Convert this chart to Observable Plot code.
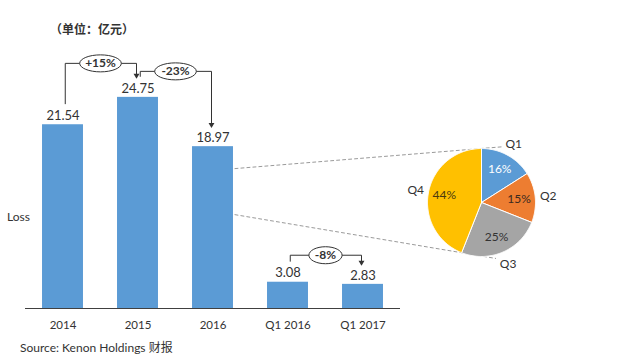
<!DOCTYPE html>
<html><head><meta charset="utf-8">
<script src="https://cdn.jsdelivr.net/npm/d3@7"></script>
<script src="https://cdn.jsdelivr.net/npm/@observablehq/plot@0.6"></script>
<style>
body{margin:0;background:#fff}
#wrap{position:relative;width:640px;height:360px;overflow:hidden;font-family:Lato,"Noto Sans CJK SC",sans-serif;color:#333}
#wrap svg{position:absolute;left:0;top:0}
.lbl{position:absolute;white-space:nowrap}
#title{left:50px;top:21px;font-size:12px;line-height:18px;font-weight:bold;font-family:Lato,"Noto Sans CJK SC",sans-serif}
#loss{left:7px;top:208px;font-size:12px;line-height:18px}
#source{left:20px;top:339px;font-size:12px;line-height:18px;font-family:Lato,"Noto Sans CJK SC",sans-serif}
</style></head>
<body><div id="wrap">
<div class="lbl" id="title">（单位：亿元）</div>
<div class="lbl" id="loss">Loss</div>
<div class="lbl" id="source">Source: Kenon Holdings 财报</div>
</div>
<script>
// ---- data ----
const categories = ["2014", "2015", "2016", "Q1 2016", "Q1 2017"];
const losses = [21.54, 24.75, 18.97, 3.08, 2.83];
const changeFrom = [0, 1, 3];
const changeTo = [1, 2, 4];
const changeLabels = ["+15%", "-23%", "-8%"];
const quarters = ["Q1", "Q2", "Q3", "Q4"];
const shares = [16, 15, 25, 44];

// ---- styles / layout ----
const barColor = "#5B9BD5";
const pieColors = ["#5B9BD5", "#ED7D31", "#A5A5A5", "#FFC000"];
const pctColors = ["#ffffff", "#3a2a20", "#333333", "#4a3a10"];
const ink = "#333";
const W = 640, H = 360, mTop = 20, mBottom = 52;
const yMax = 33.76;
const u = px => px * yMax / (H - mTop - mBottom); // px -> data units
const hw = 0.273; // half bar width (index units)
const lift = [34, 26, 27]; // bracket heights above the taller bar (px)

// annotation geometry
const brackets = [], tips = [], ellipses = [];
changeLabels.forEach((lab, k) => {
  const a = changeFrom[k], b = changeTo[k];
  const va = losses[a], vb = losses[b];
  const level = Math.max(va, vb) + u(lift[k]);
  const xa = a + 0.03, xb = b - 0.02;
  brackets.push({k, x: xa, y: va + u(21)}, {k, x: xa, y: level}, {k, x: xb, y: level}, {k, x: xb, y: vb + u(23)});
  tips.push({x: xb, y: vb + u(22)});
  ellipses.push({x: (a + b) / 2, y: level, label: lab});
});

const ellipseSymbol = aspect => ({
  draw(ctx, size) {
    const r = Math.sqrt(size / Math.PI), rx = r * aspect, ry = r, c = 0.5523;
    ctx.moveTo(rx, 0);
    ctx.bezierCurveTo(rx, ry * c, rx * c, ry, 0, ry);
    ctx.bezierCurveTo(-rx * c, ry, -rx, ry * c, -rx, 0);
    ctx.bezierCurveTo(-rx, -ry * c, -rx * c, -ry, 0, -ry);
    ctx.bezierCurveTo(rx * c, -ry, rx, -ry * c, rx, 0);
    ctx.closePath();
  }
});
const ry = 8.5;

const main = Plot.plot({
  width: W, height: H,
  marginLeft: 25, marginRight: 240, marginTop: mTop, marginBottom: mBottom,
  x: {domain: [-0.5, 4.5], axis: null},
  y: {domain: [0, yMax], axis: null},
  style: {fontFamily: "Lato, 'Noto Sans CJK SC', sans-serif", overflow: "visible", background: "white"},
  marks: [
    Plot.rectY(losses, {x1: (d, i) => i - hw, x2: (d, i) => i + hw, y: d => d, fill: barColor}),
    Plot.ruleY([0], {stroke: "#404040", strokeWidth: 1}),
    Plot.text(losses, {x: (d, i) => i, y: d => d, text: d => d.toFixed(2), dy: -9, fontSize: 13, fill: ink}),
    Plot.text(categories, {x: (d, i) => i, y: () => 0, text: d => d, dy: 17, fontSize: 11.5, fill: ink}),
    Plot.line(brackets, {x: "x", y: "y", z: "k", stroke: ink, strokeWidth: 1}),
    Plot.dot(tips, {x: "x", y: "y", symbol: "triangle", rotate: 180, r: 2.2, fill: ink, stroke: "none"}),
    ...ellipses.map(e => Plot.dot([e], {x: "x", y: "y", r: ry, symbol: ellipseSymbol((4 + 4.2 * e.label.length) / ry), fill: "white", stroke: ink, strokeWidth: 1})),
    Plot.text(ellipses, {x: "x", y: "y", text: "label", fontSize: 12, fontWeight: "bold", fill: ink})
  ]
});
document.getElementById("wrap").prepend(main);

// ---- pie overlay ----
const cx = 481, cy = 202, R = 54;
const slices = d3.pie().sort(null).value(d => d)(shares);
const slicePts = [];
slices.forEach((s, k) => {
  slicePts.push({q: quarters[k], c: pieColors[k], x: 0, y: 0});
  const n = Math.max(2, Math.ceil((s.endAngle - s.startAngle) / 0.02));
  for (let j = 0; j <= n; j++) {
    const a = s.startAngle + (s.endAngle - s.startAngle) * j / n;
    slicePts.push({q: quarters[k], c: pieColors[k], x: Math.sin(a), y: Math.cos(a)});
  }
  slicePts.push({q: quarters[k], c: pieColors[k], x: 0, y: 0});
});
const mid = s => (s.startAngle + s.endAngle) / 2;
const inner = slices.map((s, k) => ({x: 0.7 * Math.sin(mid(s)), y: 0.7 * Math.cos(mid(s)), t: shares[k] + "%", c: pctColors[k]}));
const outer = slices.map((s, k) => ({x: 1.24 * Math.sin(mid(s)), y: 1.24 * Math.cos(mid(s)), t: quarters[k]}));

// connectors from the 2016 bar to the pie
const sx = main.scale("x"), sy = main.scale("y");
const toPie = (px, py) => ({x: (px - cx) / R, y: (cy - py) / R});
const connStartVals = [16.4, 11.0];
const rimAngles = [0, slices[3].startAngle];
const extend = [1.09, 1.15];
const conn = [];
connStartVals.forEach((v, k) => {
  const p0 = toPie(sx.apply(2 + hw) + 1.5, sy.apply(v));
  const rim = {x: Math.sin(rimAngles[k]), y: Math.cos(rimAngles[k])};
  conn.push({k, x: p0.x, y: p0.y}, {k, x: p0.x + (rim.x - p0.x) * extend[k], y: p0.y + (rim.y - p0.y) * extend[k]});
});

const pie = Plot.plot({
  width: W, height: H, margin: 0,
  x: {domain: [-cx / R, (W - cx) / R], range: [0, W], axis: null},
  y: {domain: [-(H - cy) / R, cy / R], range: [H, 0], axis: null},
  style: {fontFamily: "Lato, 'Noto Sans CJK SC', sans-serif", background: "transparent", overflow: "visible"},
  marks: [
    Plot.line(conn, {x: "x", y: "y", z: "k", stroke: "#9a9a9a", strokeWidth: 1, strokeDasharray: "3,3"}),
    Plot.line(slicePts, {x: "x", y: "y", z: "q", fill: "c", stroke: "white", strokeWidth: 1}),
    Plot.text(inner, {x: "x", y: "y", text: "t", fill: "c", fontSize: 12}),
    Plot.text(outer, {x: "x", y: "y", text: "t", fill: ink, fontSize: 12})
  ]
});
document.getElementById("wrap").insertBefore(pie, main.nextSibling);
</script>
</body></html>
